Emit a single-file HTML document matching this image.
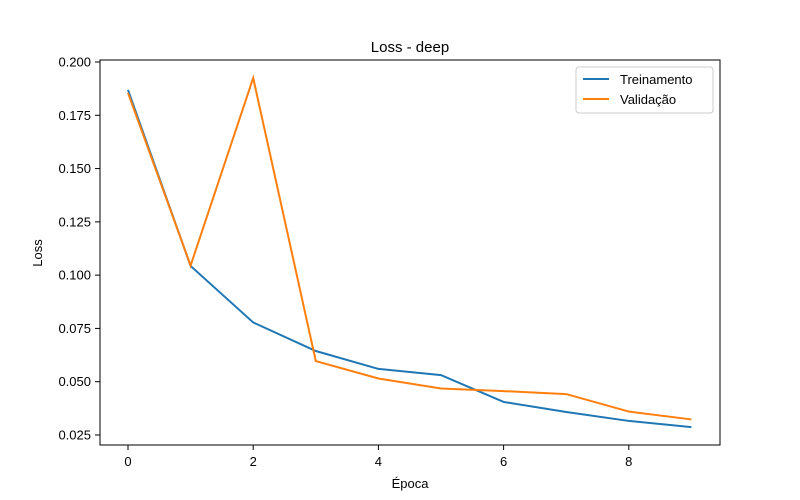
<!DOCTYPE html>
<html><head><meta charset="utf-8"><style>
body{margin:0;background:#fff;}
svg{display:block;font-family:"Liberation Sans","DejaVu Sans",sans-serif;}
</style></head><body>
<svg id="chart" width="800" height="500">
<rect x="0" y="0" width="800" height="500" fill="#fff"/>
<text x="410" y="52" font-size="15" text-anchor="middle">Loss - deep</text>
<g id="ticks"></g>
<g id="lines"></g>
<rect x="100" y="60" width="620" height="385" fill="none" stroke="#000" stroke-width="1"/>
<text x="410" y="488" font-size="13" text-anchor="middle">Época</text>
<text x="42" y="253" font-size="13" text-anchor="middle" transform="rotate(-90 42 253)">Loss</text>
<g>
<rect x="576" y="67" width="137" height="46" fill="#fff" stroke="#ccc" rx="3"/>
<line x1="583" y1="79" x2="609" y2="79" stroke="#1f77b4" stroke-width="2"/>
<text x="620" y="84" font-size="13">Treinamento</text>
<line x1="583" y1="99" x2="609" y2="99" stroke="#ff7f0e" stroke-width="2"/>
<text x="620" y="104" font-size="13">Validação</text>
</g>
</svg>
<script>
const epochs=[0,1,2,3,4,5,6,7,8,9];
const trainLoss=[0.1869,0.1043,0.0778,0.0644,0.0560,0.0531,0.0405,0.0358,0.0316,0.0287];
const valLoss=[0.1855,0.1045,0.1925,0.0597,0.0515,0.0468,0.0456,0.0442,0.0360,0.0323];
const xTicks=[0,2,4,6,8];
const yTicks=[0.025,0.050,0.075,0.100,0.125,0.150,0.175,0.200];
const NS="http://www.w3.org/2000/svg";
function xs(v){return 128+v*62.6;}
function ys(v){return 62+(0.2-v)*2131.4;}
const tg=document.getElementById('ticks');
xTicks.forEach(t=>{
 const l=document.createElementNS(NS,'line');
 l.setAttribute('x1',xs(t));l.setAttribute('x2',xs(t));l.setAttribute('y1',445);l.setAttribute('y2',450);l.setAttribute('stroke','#000');
 
 
 tg.appendChild(l);
 const tx=document.createElementNS(NS,'text');
 tx.setAttribute('x',xs(t));tx.setAttribute('y',466);tx.setAttribute('font-size','13');tx.setAttribute('text-anchor','middle');
 tx.textContent=t;
 
 
 tg.appendChild(tx);
});
yTicks.forEach(t=>{
 const l=document.createElementNS(NS,'line');
 l.setAttribute('x1',95);l.setAttribute('x2',100);l.setAttribute('y1',ys(t));l.setAttribute('y2',ys(t));l.setAttribute('stroke','#000');
 
 
 tg.appendChild(l);
 const tx=document.createElementNS(NS,'text');
 tx.setAttribute('x',91);tx.setAttribute('y',ys(t)+4.5);tx.setAttribute('font-size','13');tx.setAttribute('text-anchor','end');
 tx.textContent=t.toFixed(3);
 
 
 tg.appendChild(tx);
});
const lg=document.getElementById('lines');
function draw(data,color,name){
 const p=document.createElementNS(NS,'polyline');
 p.setAttribute('points',data.map((v,i)=>xs(epochs[i])+','+ys(v)).join(' '));
 p.setAttribute('fill','none');p.setAttribute('stroke',color);p.setAttribute('stroke-width','2');
 
 
 lg.appendChild(p);
}
draw(trainLoss,'#1f77b4','train-loss-line');
draw(valLoss,'#ff7f0e','val-loss-line');
</script>
</body></html>
